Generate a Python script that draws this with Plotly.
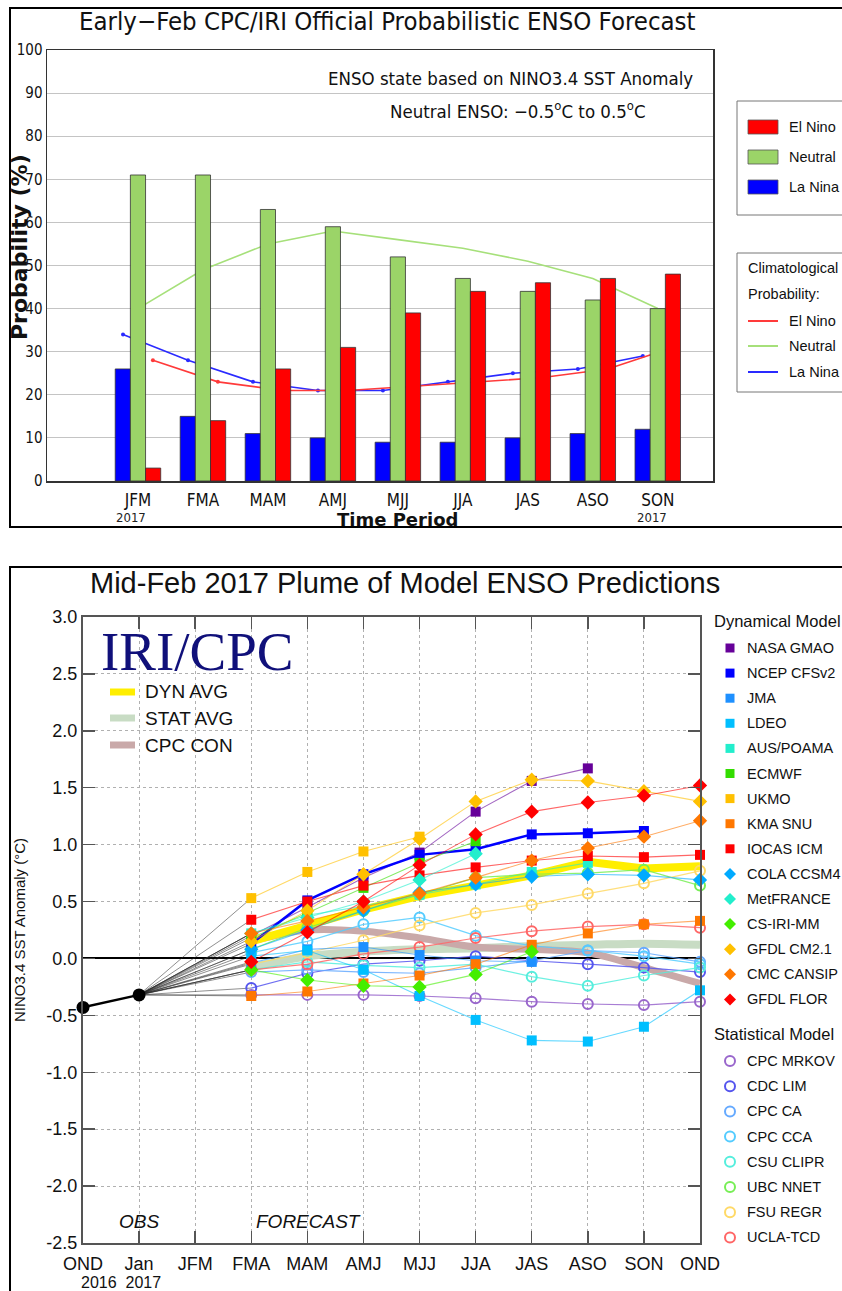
import plotly.graph_objects as go

W, H = 842, 1291
OFF = 0
def px(x): return (x - OFF) / W
def py(y): return 1 - (y - OFF) / H

NARROW = "Liberation Sans Narrow, DejaVu Sans Condensed, Arial Narrow, Liberation Sans, sans-serif"
SANS = "Liberation Sans, Arial, Helvetica, sans-serif"
DEJA = "DejaVu Sans, Verdana, sans-serif"
SERIF = "Liberation Serif, Times New Roman, DejaVu Serif, serif"

# ---------------- top chart data ----------------
top_seasons = ["JFM", "FMA", "MAM", "AMJ", "MJJ", "JJA", "JAS", "ASO", "SON"]
la_nina = [26, 15, 11, 10, 9, 9, 10, 11, 12]
neutral = [71, 71, 63, 59, 52, 47, 44, 42, 40]
el_nino = [3, 14, 26, 31, 39, 44, 46, 47, 48]
clim_el_nino = [28, 23, 21, 21, 22, 23, 24, 26, 31]
clim_neutral = [40, 49, 55, 58, 56, 54, 51, 47, 40]
clim_la_nina = [34, 28, 23, 21, 21, 23, 25, 26, 29]

# ---------------- bottom chart data ----------------
plume_seasons = ["OND", "Jan", "JFM", "FMA", "MAM", "AMJ", "MJJ", "JJA", "JAS", "ASO", "SON", "OND"]
obs = [-0.43, -0.32]          # OND 2016, Jan 2017
first_fc = 3                   # forecasts start at FMA

nasa_gmao = [0.20, 0.45, 0.71, 0.93, 1.29, 1.56, 1.67]
ncep_cfsv2 = [0.13, 0.51, 0.74, 0.91, 0.96, 1.09, 1.10, 1.12]
jma = [-0.04, 0.08, 0.10, 0.03, -0.02, -0.03]
ldeo = [0.02, 0.07, -0.10, -0.33, -0.54, -0.72, -0.73, -0.60, -0.28]
aus_poama = [0.22, 0.38, 0.46, 0.56, 0.65, 0.76, 0.84]
ecmwf = [0.18, 0.40, 0.62, 0.84, 1.03]
ukmo = [0.53, 0.76, 0.94, 1.07]
kma_snu = [-0.33, -0.29, -0.22, -0.15, -0.05, 0.12, 0.22, 0.30, 0.33]
iocas_icm = [0.34, 0.50, 0.64, 0.73, 0.80, 0.86, 0.90, 0.89, 0.91]
cola_ccsm4 = [0.08, 0.25, 0.42, 0.58, 0.65, 0.72, 0.74, 0.73, 0.69]
metfrance = [0.22, 0.36, 0.50, 0.69, 0.92]
cs_iri_mm = [-0.10, -0.19, -0.24, -0.25, -0.14, 0.06]
gfdl_cm21 = [0.15, 0.42, 0.74, 1.05, 1.38, 1.57, 1.56, 1.47, 1.38]
cmc_cansip = [0.22, 0.33, 0.45, 0.57, 0.71, 0.86, 0.97, 1.07, 1.21]
gfdl_flor = [-0.03, 0.23, 0.50, 0.82, 1.09, 1.29, 1.37, 1.43, 1.52]

cpc_mrkov = [-0.32, -0.32, -0.32, -0.33, -0.35, -0.38, -0.40, -0.41, -0.38]
cdc_lim = [-0.26, -0.13, -0.05, -0.02, 0.02, -0.02, -0.05, -0.08, -0.12]
cpc_ca = [-0.12, -0.10, -0.12, -0.13, -0.08, -0.02, 0.07, 0.05, -0.03]
cpc_cca = [0.05, 0.15, 0.30, 0.36, 0.20, 0.11, 0.07, 0.02, -0.05]
csu_clipr = [-0.10, -0.03, -0.06, -0.08, -0.05, -0.16, -0.24, -0.15, -0.08]
ubc_nnet = [0.08, 0.27, 0.42, 0.56, 0.71, 0.74, 0.75, 0.78, 0.64]
fsu_regr = [-0.05, 0.05, 0.16, 0.29, 0.40, 0.47, 0.57, 0.66, 0.77]
ucla_tcd = [-0.10, -0.05, 0.04, 0.10, 0.18, 0.24, 0.28, 0.30, 0.27]

dyn_avg = [0.15, 0.29, 0.43, 0.55, 0.64, 0.73, 0.85, 0.79, 0.81]
stat_avg = [-0.08, 0.02, 0.06, 0.08, 0.09, 0.11, 0.12, 0.13, 0.12]
cpc_con = [0.15, 0.25, 0.24, 0.18, 0.10, 0.08, 0.05, -0.08, -0.22]

dyn_models = [
    ("NASA GMAO", nasa_gmao, "square", "#660099"),
    ("NCEP CFSv2", ncep_cfsv2, "square", "#0000ff"),
    ("JMA", jma, "square", "#1e90ff"),
    ("LDEO", ldeo, "square", "#00bfff"),
    ("AUS/POAMA", aus_poama, "square", "#22eecc"),
    ("ECMWF", ecmwf, "square", "#33dd00"),
    ("UKMO", ukmo, "square", "#ffc000"),
    ("KMA SNU", kma_snu, "square", "#ff7700"),
    ("IOCAS ICM", iocas_icm, "square", "#ff0000"),
    ("COLA CCSM4", cola_ccsm4, "diamond", "#00aaff"),
    ("MetFRANCE", metfrance, "diamond", "#22eecc"),
    ("CS-IRI-MM", cs_iri_mm, "diamond", "#44ee00"),
    ("GFDL CM2.1", gfdl_cm21, "diamond", "#ffc000"),
    ("CMC CANSIP", cmc_cansip, "diamond", "#ff7700"),
    ("GFDL FLOR", gfdl_flor, "diamond", "#ff0000"),
]
stat_models = [
    ("CPC MRKOV", cpc_mrkov, "#9966cc"),
    ("CDC LIM", cdc_lim, "#5555ee"),
    ("CPC CA", cpc_ca, "#66aaff"),
    ("CPC CCA", cpc_cca, "#55ccff"),
    ("CSU CLIPR", csu_clipr, "#55eedd"),
    ("UBC NNET", ubc_nnet, "#77ee55"),
    ("FSU REGR", fsu_regr, "#ffd966"),
    ("UCLA-TCD", ucla_tcd, "#ff6666"),
]

def hex_rgba(h, a):
    h = h.lstrip('#')
    return "rgba(%d,%d,%d,%.2f)" % (int(h[0:2], 16), int(h[2:4], 16), int(h[4:6], 16), a)

fig = go.Figure()

# ---------- top: climatology lines (base axes, under bars) ----------
idx = list(range(len(top_seasons)))
fig.add_trace(go.Scatter(x=[i - 0.23 for i in idx], y=clim_la_nina, mode="lines+markers",
                         line=dict(color="#2a2aff", width=1.6), marker=dict(size=4, color="#2a2aff"),
                         xaxis="x", yaxis="y", showlegend=False, hoverinfo="skip"))
fig.add_trace(go.Scatter(x=idx, y=clim_neutral, mode="lines",
                         line=dict(color="#a6e07a", width=1.6),
                         xaxis="x", yaxis="y", showlegend=False, hoverinfo="skip"))
fig.add_trace(go.Scatter(x=[i + 0.23 for i in idx], y=clim_el_nino, mode="lines+markers",
                         line=dict(color="#ff3a3a", width=1.6), marker=dict(size=4, color="#ff3a3a"),
                         xaxis="x", yaxis="y", showlegend=False, hoverinfo="skip"))

# ---------- top: bars (overlay axes, above lines) ----------
for vals, col in [(la_nina, "#0000ff"), (neutral, "#9bd468"), (el_nino, "#ff0000")]:
    fig.add_trace(go.Bar(x=idx, y=vals, marker=dict(color=col, line=dict(color="#333333", width=0.8)),
                         xaxis="x3", yaxis="y3", showlegend=False, hoverinfo="skip"))

# ---------- bottom: plume ----------
fc_x = list(range(first_fc, len(plume_seasons)))

fig.add_trace(go.Scatter(x=fc_x[:len(stat_avg)], y=stat_avg, mode="lines",
                         line=dict(color="#c8dcc4", width=8, shape="spline"),
                         xaxis="x2", yaxis="y2", showlegend=False, hoverinfo="skip"))
fig.add_trace(go.Scatter(x=fc_x[:len(cpc_con)], y=cpc_con, mode="lines",
                         line=dict(color="#c9a9a9", width=7, shape="spline"),
                         xaxis="x2", yaxis="y2", showlegend=False, hoverinfo="skip"))
fig.add_trace(go.Scatter(x=fc_x[:len(dyn_avg)], y=dyn_avg, mode="lines",
                         line=dict(color="#ffee00", width=8),
                         xaxis="x2", yaxis="y2", showlegend=False, hoverinfo="skip"))

all_first = [m[1][0] for m in dyn_models] + [m[1][0] for m in stat_models]
for v0 in all_first:
    fig.add_trace(go.Scatter(x=[1, first_fc], y=[obs[-1], v0], mode="lines",
                             line=dict(color="rgba(40,40,40,0.75)", width=0.7),
                             xaxis="x2", yaxis="y2", showlegend=False, hoverinfo="skip"))

for name, vals, col in stat_models:
    fig.add_trace(go.Scatter(x=fc_x[:len(vals)], y=vals, mode="lines+markers",
                             line=dict(color=hex_rgba(col, 0.85), width=1.2),
                             marker=dict(symbol="circle-open", size=10, color=col, line=dict(width=2, color=col)),
                             xaxis="x2", yaxis="y2", showlegend=False, name=name, cliponaxis=False))
for name, vals, sym, col in dyn_models:
    lw = 2.5 if name == "NCEP CFSv2" else 1.1
    fig.add_trace(go.Scatter(x=fc_x[:len(vals)], y=vals, mode="lines+markers",
                             line=dict(color=hex_rgba(col, 1.0 if name == "NCEP CFSv2" else 0.6), width=lw),
                             marker=dict(symbol=sym, size=10 if sym == "square" else 11, color=col),
                             xaxis="x2", yaxis="y2", showlegend=False, name=name, cliponaxis=False))

fig.add_trace(go.Scatter(x=[0, 1], y=obs, mode="lines+markers",
                         line=dict(color="black", width=2.5), marker=dict(size=13, color="black"),
                         xaxis="x2", yaxis="y2", showlegend=False, cliponaxis=False, hoverinfo="skip"))

# ---------------- layout ----------------
shapes = []
annotations = []

def rect(x0, y0, x1, y1, color, width=1, fill="rgba(0,0,0,0)"):
    shapes.append(dict(type="rect", xref="paper", yref="paper", x0=px(x0), x1=px(x1), y0=py(y0), y1=py(y1),
                       line=dict(color=color, width=width), fillcolor=fill, layer="above"))

def hline(x0, x1, y, color, width):
    shapes.append(dict(type="line", xref="paper", yref="paper", x0=px(x0), x1=px(x1), y0=py(y), y1=py(y),
                       line=dict(color=color, width=width), layer="above"))

def text(x, y, s, size, family=SANS, color="#111111", xanchor="center", textangle=0):
    annotations.append(dict(x=px(x), y=py(y), xref="paper", yref="paper", text=s, showarrow=False,
                            font=dict(size=size, family=family, color=color), xanchor=xanchor,
                            yanchor="middle", textangle=textangle))

# outer frames
rect(10, 8, 870, 527, "black", 2)
rect(10, 567, 870, 1320, "black", 2)

# top texts
text(387, 21, "Early\u2212Feb CPC/IRI Official Probabilistic ENSO Forecast", 25.5, NARROW, "#111")
text(695, 79, "ENSO state based on NINO3.4 SST Anomaly", 18.5, NARROW, "#111", xanchor="right")
text(648, 110, "Neutral ENSO: \u22120.5<sup>o</sup>C to 0.5<sup>o</sup>C", 18.5, NARROW, "#111", xanchor="right")
text(19, 247, "<b>Probability (%)</b>", 22, DEJA, "#111", textangle=-90)
text(397, 519, "<b>Time Period</b>", 18, DEJA, "#111")
text(131, 517, "2017", 13, NARROW, "#222")
text(652, 517, "2017", 13, NARROW, "#222")

# top legend boxes
rect(737, 101, 870, 215, "#777", 1)
for y, lab, col in [(127, "El Nino", "#ff0000"), (157, "Neutral", "#9bd468"), (187, "La Nina", "#0000ff")]:
    rect(748, y - 7, 778, y + 7, "#555", 0.8, col)
    text(787, y, lab, 14.5, SANS, "#111", xanchor="left")
rect(737, 253, 870, 392, "#777", 1)
text(746, 268, "Climatological", 14.5, SANS, "#111", xanchor="left")
text(746, 294, "Probability:", 14.5, SANS, "#111", xanchor="left")
for y, lab, col in [(321, "El Nino", "#ff3a3a"), (346, "Neutral", "#a6e07a"), (372, "La Nina", "#2a2aff")]:
    hline(748, 778, y, col, 2)
    text(787, y, lab, 14.5, SANS, "#111", xanchor="left")

# bottom texts
text(405, 583, "Mid-Feb 2017 Plume of Model ENSO Predictions", 29, SANS, "#111")
text(197, 651, "IRI/CPC", 55, SERIF, "#10107a")
for y, lab, col in [(692, "DYN AVG", "#ffee00"), (718, "STAT AVG", "#c8dcc4"), (745, "CPC CON", "#c9a9a9")]:
    hline(110, 135, y, col, 7)
    text(143, y, lab, 19, SANS, "#111", xanchor="left")
text(20, 930, "NINO3.4 SST Anomaly (\u00b0C)", 15, SANS, "#111", textangle=-90)
text(139, 1221, "<i>OBS</i>", 19, SANS, "#111")
text(308, 1221, "<i>FORECAST</i>", 19, SANS, "#111")
text(121, 1282, "2016  2017", 16, SANS, "#111")

# right legend
text(712, 621, "Dynamical Model", 16.5, SANS, "#111", xanchor="left")
for k, (name, vals, sym, col) in enumerate(dyn_models):
    y = 648 + k * 25.1
    x = 730
    if sym == "square":
        rect(x - 4.5, y - 4.5, x + 4.5, y + 4.5, col, 0, col)
    else:
        path = "M %f %f L %f %f L %f %f L %f %f Z" % (px(x), py(y - 6), px(x + 6), py(y), px(x), py(y + 6), px(x - 6), py(y))
        shapes.append(dict(type="path", xref="paper", yref="paper", path=path, fillcolor=col,
                           line=dict(width=0), layer="above"))
    text(745, y, name, 14.5, SANS, "#111", xanchor="left")
text(712, 1034, "Statistical Model", 16.5, SANS, "#111", xanchor="left")
for k, (name, vals, col) in enumerate(stat_models):
    y = 1061 + k * 25.2
    x = 730
    shapes.append(dict(type="circle", xref="paper", yref="paper", x0=px(x - 5), x1=px(x + 5),
                       y0=py(y - 5), y1=py(y + 5), line=dict(color=col, width=2), layer="above"))
    text(745, y, name, 14.5, SANS, "#111", xanchor="left")

ytick_vals = [3.0, 2.5, 2.0, 1.5, 1.0, 0.5, 0.0, -0.5, -1.0, -1.5, -2.0, -2.5]
ytick_text = ["%.1f" % v for v in ytick_vals]

fig.update_layout(
    width=W, height=H, margin=dict(l=0, r=0, t=0, b=0, pad=0, autoexpand=False),
    paper_bgcolor="white", plot_bgcolor="white",
    barmode="group", bargap=0.3, bargroupgap=0.0,
    showlegend=False,
    xaxis=dict(domain=[px(47), px(713)], range=[-1.4, 8.85], tickvals=idx, ticktext=top_seasons,
               showgrid=False, zeroline=False, showline=True, mirror=True, linecolor="#333", linewidth=1.5,
               ticks="", tickfont=dict(size=17, family=NARROW, color="#111"), ticklabelstandoff=3,
               anchor="y", fixedrange=True, automargin=False),
    yaxis=dict(domain=[py(481), py(50)], range=[0, 100], dtick=10, showgrid=True, gridcolor="#c4c4c4",
               gridwidth=1, zeroline=False, showline=True, mirror=True, linecolor="#333", linewidth=1.5,
               ticks="", tickfont=dict(size=15, family=NARROW, color="#111"), anchor="x", fixedrange=True,
               automargin=False),
    xaxis3=dict(overlaying="x", range=[-1.4, 8.85], visible=False, anchor="y3", automargin=False),
    yaxis3=dict(overlaying="y", range=[0, 100], visible=False, anchor="x3", automargin=False),
    xaxis2=dict(domain=[px(83), px(700)], range=[0, 11], tickvals=list(range(len(plume_seasons))),
                ticktext=plume_seasons, showgrid=True, gridcolor="#b0b0b0", griddash="dot", gridwidth=1,
                zeroline=False, showline=True, mirror="allticks", linecolor="#555", linewidth=2,
                ticks="inside", ticklen=12, tickwidth=1.5, tickcolor="#555",
                tickfont=dict(size=18, family=SANS, color="#111"), ticklabelstandoff=3,
                anchor="y2", fixedrange=True, automargin=False),
    yaxis2=dict(domain=[py(1243), py(617)], range=[-2.5, 3.0], tickvals=ytick_vals, ticktext=ytick_text,
                showgrid=True, gridcolor="#b0b0b0", griddash="dot", gridwidth=1,
                zeroline=True, zerolinecolor="black", zerolinewidth=2,
                showline=True, mirror="allticks", linecolor="#555", linewidth=2,
                ticks="inside", ticklen=12, tickwidth=1.5, tickcolor="#555",
                tickfont=dict(size=18, family=SANS, color="#111"), anchor="x2", fixedrange=True,
                automargin=False),
    shapes=shapes, annotations=annotations,
)

# remove the browser's default page margin so the 842x1291 figure fills the window exactly
fig.write_html("out.html",
               config={"displayModeBar": False, "staticPlot": True},
               post_script="document.body.style.margin='0';document.body.style.overflow='hidden';")
